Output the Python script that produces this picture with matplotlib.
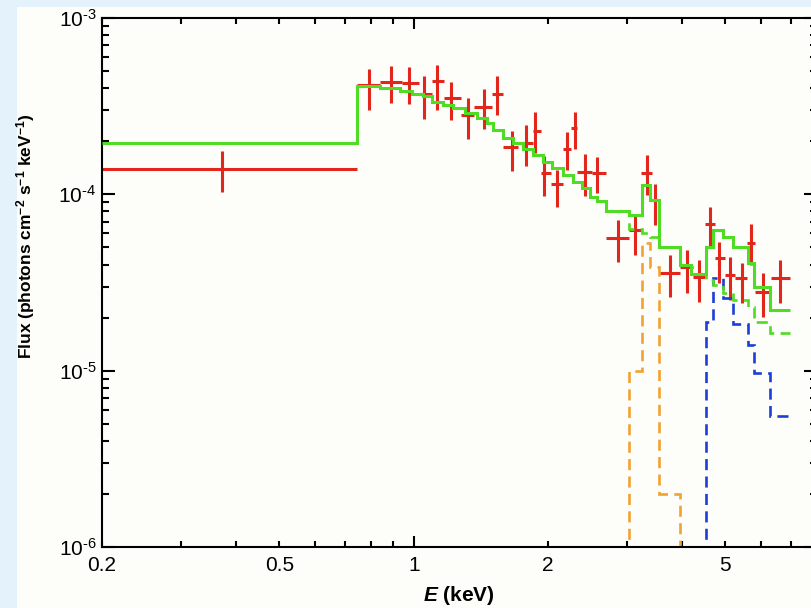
import numpy as np
import matplotlib
matplotlib.use("Agg")
import matplotlib.pyplot as plt
from matplotlib.patches import Rectangle
from matplotlib.ticker import LogLocator, NullFormatter, FuncFormatter

plt.rcParams['font.family'] = ['Liberation Sans', 'DejaVu Sans']
plt.rcParams['mathtext.fontset'] = 'custom'
plt.rcParams['mathtext.rm'] = 'Liberation Sans'
plt.rcParams['mathtext.bf'] = 'Liberation Sans:bold'
plt.rcParams['mathtext.it'] = 'Liberation Sans:bold:italic'
plt.rcParams['mathtext.default'] = 'regular'

# observed spectrum (keV, photons cm-2 s-1 keV-1)
e_cen = [0.372, 0.795, 0.888, 0.976, 1.054, 1.129, 1.214, 1.321, 1.439, 1.541,
         1.658, 1.785, 1.870, 1.959, 2.092, 2.210, 2.300, 2.422, 2.582, 2.866,
         3.134, 3.340, 3.474, 3.754, 4.092, 4.368, 4.616, 4.844, 5.118, 5.438,
         5.696, 6.060, 6.626]
e_lo = [0.200, 0.746, 0.840, 0.940, 1.027, 1.097, 1.169, 1.275, 1.365, 1.497,
        1.586, 1.716, 1.851, 1.926, 2.031, 2.164, 2.252, 2.323, 2.506, 2.698,
        3.044, 3.232, 3.422, 3.547, 3.954, 4.228, 4.498, 4.736, 4.988, 5.254,
        5.588, 5.824, 6.314]
e_hi = e_lo[1:] + [6.98]
flux = [1.39e-4, 4.17e-4, 4.31e-4, 4.26e-4, 3.69e-4, 4.39e-4, 3.51e-4, 2.82e-4, 3.14e-4, 3.73e-4,
        1.85e-4, 1.95e-4, 2.30e-4, 1.32e-4, 1.15e-4, 1.80e-4, 2.37e-4, 1.34e-4, 1.32e-4, 5.62e-5,
        6.27e-5, 1.32e-4, 9.29e-5, 3.56e-5, 3.88e-5, 3.41e-5, 6.79e-5, 4.34e-5, 3.48e-5, 3.34e-5,
        5.31e-5, 2.81e-5, 3.34e-5]
flux_hi = [1.76e-4, 5.14e-4, 5.36e-4, 5.27e-4, 4.69e-4, 5.43e-4, 4.35e-4, 3.53e-4, 3.94e-4, 4.69e-4,
           2.30e-4, 2.47e-4, 2.94e-4, 1.65e-4, 1.37e-4, 2.26e-4, 2.94e-4, 1.69e-4, 1.63e-4, 7.14e-5,
           7.63e-5, 1.67e-4, 1.15e-4, 4.53e-5, 4.83e-5, 4.24e-5, 8.51e-5, 5.38e-5, 4.42e-5, 4.06e-5,
           6.79e-5, 3.56e-5, 4.24e-5]
flux_lo = [1.035e-4, 3.01e-4, 3.28e-4, 3.25e-4, 2.67e-4, 3.01e-4, 2.64e-4, 2.05e-4, 2.34e-4, 2.82e-4,
           1.36e-4, 1.45e-4, 1.71e-4, 9.8e-5, 8.5e-5, 1.37e-4, 1.80e-4, 9.8e-5, 1.02e-4, 4.15e-5,
           4.53e-5, 9.9e-5, 6.70e-5, 2.62e-5, 2.74e-5, 2.46e-5, 5.05e-5, 3.13e-5, 2.51e-5, 2.41e-5,
           3.97e-5, 2.02e-5, 2.41e-5]

# total model (solid green)
model_edges = [0.200, 0.746, 0.840, 0.932, 0.990, 1.049, 1.097, 1.163, 1.225, 1.303,
               1.384, 1.457, 1.505, 1.586, 1.669, 1.758, 1.851, 1.949, 2.038, 2.160,
               2.275, 2.380, 2.486, 2.576, 2.698, 3.039, 3.250, 3.386, 3.547, 3.954,
               4.184, 4.522, 4.688, 4.936, 5.198, 5.616, 5.792, 6.292, 6.98]
model_flux = [1.96e-4, 4.11e-4, 4.03e-4, 3.87e-4, 3.71e-4, 3.59e-4, 3.35e-4, 3.23e-4, 3.07e-4,
              2.88e-4, 2.70e-4, 2.54e-4, 2.32e-4, 2.09e-4, 1.95e-4, 1.80e-4, 1.67e-4, 1.53e-4,
              1.41e-4, 1.29e-4, 1.18e-4, 1.08e-4, 9.66e-5, 9.16e-5, 8.04e-5, 7.68e-5, 1.13e-4,
              9.28e-5, 5.02e-5, 3.97e-5, 3.53e-5, 5.04e-5, 6.27e-5, 5.75e-5, 5.04e-5, 4.06e-5,
              2.99e-5, 2.21e-5]

# continuum only (dashed green)
cont_edges = [2.698, 3.039, 3.250, 3.386, 3.547, 3.954, 4.184, 4.522, 4.688, 4.936,
              5.198, 5.616, 5.792, 6.292, 6.98]
cont_flux = [8.04e-5, 6.36e-5, 6.03e-5, 5.75e-5, 5.02e-5, 3.97e-5, 3.53e-5, 3.27e-5,
             3.06e-5, 2.76e-5, 2.52e-5, 2.29e-5, 1.89e-5, 1.63e-5]

# line components
line1_edges = [2.698, 3.039, 3.250, 3.386, 3.547, 3.954, 4.184]
line1_flux = [0, 1.0e-5, 5.27e-5, 3.88e-5, 2.0e-6, 0]
line2_edges = [4.184, 4.522, 4.688, 4.936, 5.198, 5.616, 5.792, 6.292, 6.98]
line2_flux = [0, 1.89e-5, 3.35e-5, 2.57e-5, 1.85e-5, 1.40e-5, 9.7e-6, 5.52e-6]

x_ticks = [0.2, 0.5, 1, 2, 5]
x_tick_labels = ['0.2', '0.5', '1', '2', '5']
x_minor = [0.3, 0.4, 0.6, 0.7, 0.8, 0.9, 3, 4, 6, 7]

red = '#e3261b'
green = '#4fdc24'
orange = '#f0a232'
blue = '#1c3ed6'

fig = plt.figure(figsize=(8.11, 6.08), dpi=100, facecolor='#e4f2fb')
fig.add_artist(Rectangle((17 / 811, 0), 1, 601 / 608, transform=fig.transFigure,
                         facecolor='#fdfdf9', edgecolor='none', zorder=-1))
ax = fig.add_axes([102 / 811, 61 / 608, 714.5 / 811, 529 / 608])
ax.set_facecolor('#fdfdf9')

e_cen_a = np.array(e_cen)
flux_a = np.array(flux)
xerr = [e_cen_a - np.array(e_lo), np.array(e_hi) - e_cen_a]
yerr = [flux_a - np.array(flux_lo), np.array(flux_hi) - flux_a]
ax.errorbar(e_cen, flux, xerr=xerr, yerr=yerr, fmt='none', ecolor=red,
            elinewidth=2.2, capsize=0, zorder=2)

dash = (0, (4.2, 2.4))
ax.stairs(line1_flux, line1_edges, baseline=None, color=orange, lw=1.9, ls=dash, zorder=2.2)
ax.stairs(line2_flux, line2_edges, baseline=None, color=blue, lw=1.9, ls=dash, zorder=2.2)
ax.stairs(cont_flux, cont_edges, baseline=None, color=green, lw=1.9, ls=dash, zorder=2.5)
ax.stairs(model_flux, model_edges, baseline=None, color=green, lw=2.2, zorder=3)

ax.set_xscale('log')
ax.set_yscale('log')
ax.set_xlim(0.2, 8)
ax.set_ylim(1e-6, 1e-3)

ax.set_xticks(x_ticks, labels=x_tick_labels)
ax.set_xticks(x_minor, minor=True)
ax.xaxis.set_minor_formatter(NullFormatter())
ax.yaxis.set_major_locator(LogLocator(base=10, numticks=10))
ax.yaxis.set_major_formatter(FuncFormatter(lambda v, p: r'$10^{\text{-%d}}$' % round(-np.log10(v))))
ax.yaxis.set_minor_locator(LogLocator(base=10, subs=np.arange(2, 10), numticks=10))
ax.yaxis.set_minor_formatter(NullFormatter())

ax.tick_params(which='both', direction='in', top=True, right=True, width=1.5)
ax.tick_params(axis='x', which='both', length=4.3, pad=6.5, labelsize=15)
ax.tick_params(axis='y', which='major', length=9.4, pad=4, labelsize=15)
ax.tick_params(axis='y', which='minor', length=5)
for t in ax.xaxis.get_major_ticks():
    if t.get_loc() == 1:
        t.tick1line.set_markersize(8)
        t.tick2line.set_markersize(8)

for spine in ax.spines.values():
    spine.set_linewidth(1.5)

ax.set_xlabel(r'$\mathit{E}$ (keV)', fontsize=15, fontweight='bold')
ax.xaxis.set_label_coords(0.5, -0.07)
ax.set_ylabel(r'Flux (photons cm$^{\mathbf{-2}}$ s$^{\mathbf{-1}}$ keV$^{\mathbf{-1}}$)',
              fontsize=12.5, fontweight='bold')
ax.yaxis.set_label_coords(-0.091, 0.588)

fig.savefig('out.png', dpi=100, facecolor=fig.get_facecolor())
